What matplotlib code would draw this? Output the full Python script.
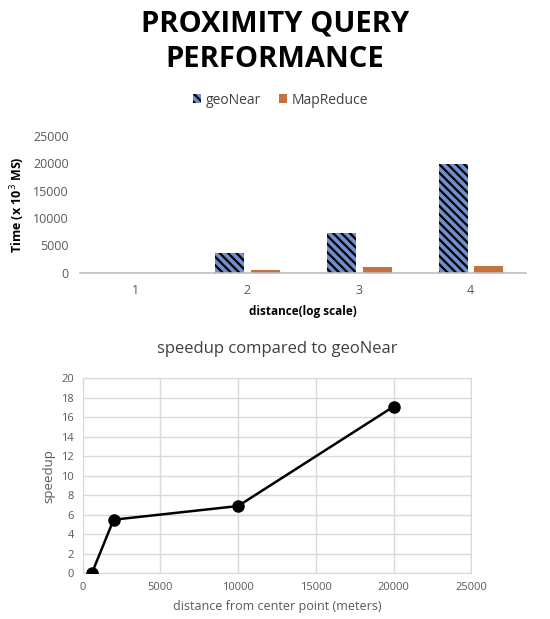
import numpy as np
import matplotlib.pyplot as plt

plt.rcParams['font.family'] = ['Open Sans', 'DejaVu Sans']

# bar chart data
categories = ['1', '2', '3', '4']
geonear_time = [0, 3600, 7300, 19800]
mapreduce_time = [0, 600, 1000, 1200]

# speedup data
distance_m = [600, 2000, 10000, 20000]
speedup = [0, 5.5, 6.9, 17.1]

grey = '#595959'
blue = '#6f8fcf'
orange = '#c4713b'

fig = plt.figure(figsize=(5.5, 6.19), dpi=100)

# two-line bold heading, each line placed on its own baseline
fig.text(0.5, 0.9488, 'PROXIMITY QUERY', ha='center', va='baseline',
         fontsize=21, fontweight='bold', color='black')
fig.text(0.5, 0.8922, 'PERFORMANCE', ha='center', va='baseline',
         fontsize=21, fontweight='bold', color='black')

# --- top: time per query ---
ax1 = fig.add_axes([0.145, 0.559, 0.812, 0.222])
x = np.arange(len(categories))
w = 0.26
plt.rcParams['hatch.linewidth'] = 1.6
b1 = ax1.bar(x - 0.155, geonear_time, w, facecolor=blue, edgecolor='black',
             hatch='\\\\\\\\', linewidth=0, label='geoNear')
b2 = ax1.bar(x + 0.165, mapreduce_time, w, color=orange, linewidth=0,
             label='MapReduce')
ax1.set_xlim(-0.5, 3.5)
ax1.set_ylim(0, 25000)
ax1.set_yticks(range(0, 25001, 5000))
ax1.set_xticks(x)
ax1.set_xticklabels(categories)
for s in ['top', 'right', 'left']:
    ax1.spines[s].set_visible(False)
ax1.spines['bottom'].set_color('#bfbfbf')
ax1.spines['bottom'].set_linewidth(1.2)
ax1.tick_params(length=0, labelsize=9, colors=grey, pad=8)
ax1.set_ylabel('Time (x 10$^3$ MS)', fontsize=9, fontweight='bold',
               color='black', labelpad=4)
ax1.set_xlabel('distance(log scale)', fontsize=8.5, fontweight='bold',
               color='black', labelpad=6)
fig.legend(handles=[b1, b2], loc='center', bbox_to_anchor=(0.51, 0.838),
           ncol=2, frameon=False, fontsize=10, handlelength=0.6,
           handleheight=0.6, columnspacing=1.3, handletextpad=0.3,
           labelcolor='#404040')

# --- bottom: speedup curve ---
ax2 = fig.add_axes([0.150, 0.0738, 0.707, 0.315])
ax2.plot(distance_m, speedup, color='black', linewidth=1.8, marker='o',
         markersize=8, zorder=3)
ax2.set_xlim(0, 25000)
ax2.set_ylim(0, 20)
ax2.set_xticks(range(0, 25001, 5000))
ax2.set_yticks(range(0, 21, 2))
ax2.grid(True, color='#d9d9d9', linewidth=1)
ax2.set_axisbelow(True)
for s in ax2.spines.values():
    s.set_color('#d9d9d9')
ax2.tick_params(length=0, labelsize=8, colors=grey, pad=6)
ax2.set_title('speedup compared to geoNear', fontsize=12, color='#404040',
              pad=18)
ax2.set_xlabel('distance from center point (meters)', fontsize=9,
               color=grey, labelpad=5)
ax2.set_ylabel('speedup', fontsize=9.5, color=grey, labelpad=4)

fig.savefig('out.png', dpi=100, facecolor='white')
